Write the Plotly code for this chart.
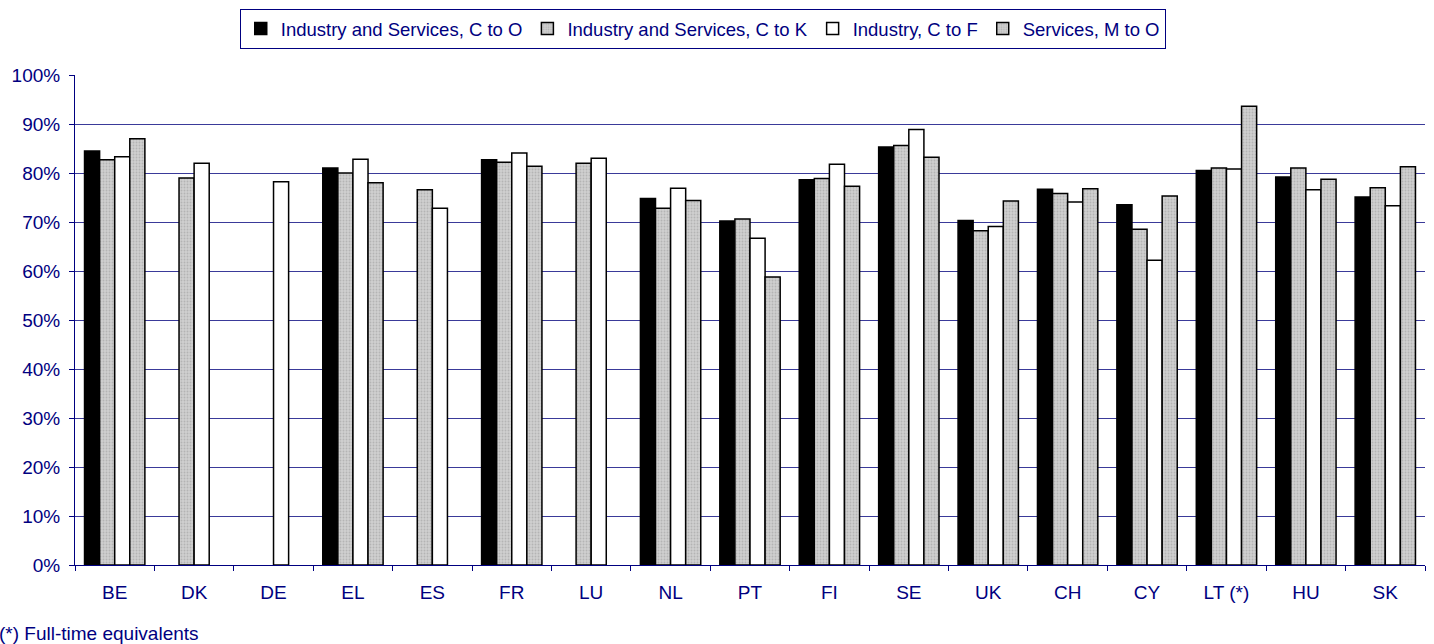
import plotly.graph_objects as go

categories = ["BE", "DK", "DE", "EL", "ES", "FR", "LU", "NL", "PT", "FI", "SE", "UK", "CH", "CY", "LT (*)", "HU", "SK"]
s_c_to_o = [84.5, None, None, 81.0, None, 82.7, None, 74.8, 70.2, 78.6, 85.3, 70.3, 76.7, 73.5, 80.5, 79.2, 75.1]
s_c_to_k = [82.7, 79.0, None, 80.0, 76.6, 82.2, 82.0, 72.8, 70.6, 78.9, 85.6, 68.2, 75.8, 68.5, 81.0, 81.0, 77.0]
s_ind_c_to_f = [83.3, 82.0, 78.2, 82.8, 72.8, 84.1, 83.0, 76.9, 66.7, 81.8, 88.9, 69.1, 74.1, 62.2, 80.8, 76.6, 73.3]
s_serv_m_to_o = [87.0, None, None, 78.0, None, 81.4, None, 74.4, 58.8, 77.3, 83.2, 74.3, 76.8, 75.3, 93.6, 78.7, 81.3]

names = ["Industry and Services, C to O", "Industry and Services, C to K", "Industry, C to F", "Services, M to O"]
navy = "#000080"
grid = "#3a3a99"
FS = 19

fig = go.Figure()
series = [s_c_to_o, s_c_to_k, s_ind_c_to_f, s_serv_m_to_o]
for i, (nm, vals) in enumerate(zip(names, series)):
    y = [v / 100 if v is not None else None for v in vals]
    if i == 0:
        marker = dict(color="#000000", line=dict(color="#000000", width=1.5))
    elif i == 2:
        marker = dict(color="#ffffff", line=dict(color="#000000", width=1.5))
    else:
        marker = dict(color="#c8c8c8", line=dict(color="#000000", width=1.5),
                      pattern=dict(shape=".", fgcolor="#9a9a9a", bgcolor="#cfcfcf", size=3, solidity=0.3))
    fig.add_trace(go.Bar(x=categories, y=y, name=nm, marker=marker))

fig.update_layout(
    width=1434, height=644,
    margin=dict(l=75, r=9, t=75, b=79, autoexpand=False),
    paper_bgcolor="white", plot_bgcolor="white",
    barmode="group", bargap=0.24, bargroupgap=0,
    font=dict(family="Liberation Sans, Arial, sans-serif", size=FS, color=navy),
    legend=dict(orientation="h", x=0.465, xanchor="center", y=1.135, yanchor="top",
                bordercolor=navy, borderwidth=1, bgcolor="white",
                font=dict(size=18.5, color=navy), itemwidth=30, tracegroupgap=0),
    showlegend=True,
)
fig.update_xaxes(showline=True, linecolor=navy, linewidth=1, ticks="outside", tickson="boundaries",
                 ticklen=5, tickcolor=navy, tickfont=dict(size=FS, color=navy), showgrid=False,
                 ticklabelstandoff=10)
fig.update_yaxes(range=[0, 1], tickformat=".0%", dtick=0.1, showline=True, linecolor=navy, linewidth=1,
                 ticks="outside", ticklen=5, tickcolor=navy, showgrid=True, gridcolor=grid, gridwidth=1,
                 tickfont=dict(size=FS, color=navy), zeroline=False, ticklabelstandoff=5)
fig.add_annotation(text="(*) Full-time equivalents", xref="paper", yref="paper", x=-78/1350, y=-68/490,
                   xanchor="left", yanchor="middle", showarrow=False, font=dict(size=FS, color=navy))
fig.write_html("out.html", post_script="document.body.style.margin='0px';",
               config={"displayModeBar": False})
